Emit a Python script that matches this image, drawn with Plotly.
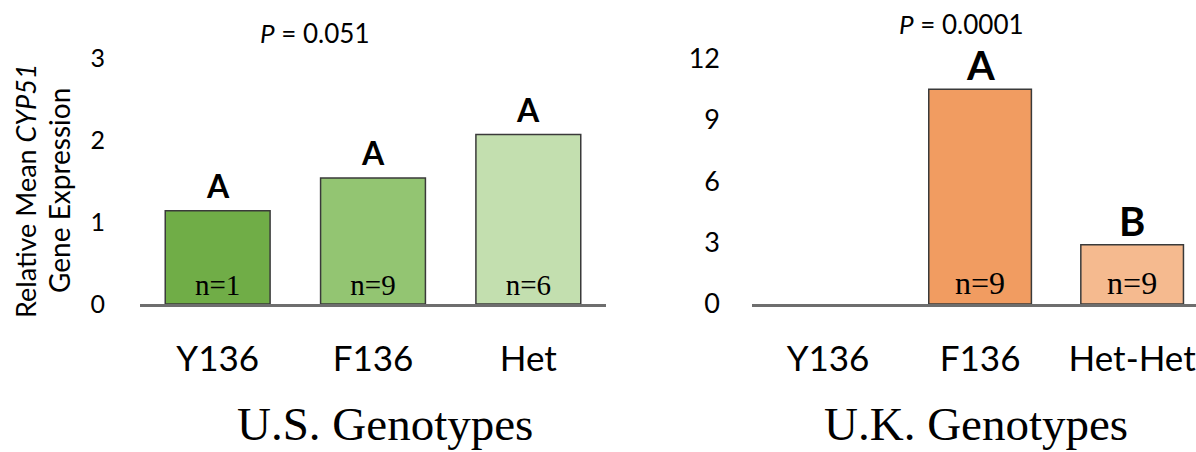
import plotly.graph_objects as go

# U.S. isolates
us_genotypes = ["Y136", "F136", "Het"]
us_expression = [1.14, 1.54, 2.07]
us_n = ["n=1", "n=9", "n=6"]
us_letters = ["A", "A", "A"]
us_colors = ["#70AD47", "#93C572", "#C3DFAF"]
us_ticks = [0, 1, 2, 3]

# U.K. isolates
uk_genotypes = ["Y136", "F136", "Het-Het"]
uk_expression = [None, 10.5, 2.9]
uk_n = ["", "n=9", "n=9"]
uk_letters = ["", "A", "B"]
uk_colors = ["#F19C61", "#F19C61", "#F5BA8F"]
uk_ticks = [0, 3, 6, 9, 12]

sans = "Lato, 'Open Sans', sans-serif"
serif = "'Liberation Serif', 'DejaVu Serif', serif"
W, H = 1196, 452

fig = go.Figure()

fig.add_trace(go.Bar(
    x=us_genotypes, y=us_expression, xaxis="x", yaxis="y",
    marker=dict(color=us_colors, line=dict(color="#3a3a3a", width=1.5)),
    text=us_n, textposition="inside", insidetextanchor="start",
    textangle=0, constraintext="none",
    insidetextfont=dict(family=serif, size=29, color="black"),
    showlegend=False, hoverinfo="x+y",
))
fig.add_trace(go.Bar(
    x=uk_genotypes, y=uk_expression, xaxis="x2", yaxis="y2",
    marker=dict(color=uk_colors, line=dict(color="#3a3a3a", width=1.5)),
    text=uk_n, textposition="inside", insidetextanchor="start",
    textangle=0, constraintext="none",
    insidetextfont=dict(family=serif, size=32, color="black"),
    showlegend=False, hoverinfo="x+y",
))

ydom = [1 - 304 / H, 1 - 58.5 / H]
axis_common = dict(showgrid=False, zeroline=False, automargin=False, ticks="")

fig.update_layout(
    width=W, height=H, template="none",
    margin=dict(l=0, r=0, t=0, b=0),
    paper_bgcolor="white", plot_bgcolor="rgba(0,0,0,0)",
    bargap=0.325,
    xaxis=dict(domain=[140 / W, 606 / W], range=[-0.5, 2.5], type="category",
               showline=True, linecolor="#6e6e6e", linewidth=2.5,
               tickfont=dict(family=sans, size=35, color="black"),
               ticklabelstandoff=22, **axis_common),
    yaxis=dict(domain=ydom, range=[0, 3], tickvals=us_ticks, showline=False,
               tickfont=dict(family=sans, size=25, color="black"),
               ticklabelstandoff=34, **axis_common),
    xaxis2=dict(domain=[752 / W, 1.0], range=[-0.5, 2.42], type="category",
                anchor="y2",
                showline=True, linecolor="#6e6e6e", linewidth=2.5,
                tickfont=dict(family=sans, size=35, color="black"),
                ticklabelstandoff=22, **axis_common),
    yaxis2=dict(domain=ydom, range=[0, 12], tickvals=uk_ticks, anchor="x2",
                showline=False,
                tickfont=dict(family=sans, size=27, color="black"),
                ticklabelstandoff=31, **axis_common),
)

annotations = []

# significance letters above each bar
for g, v, lab in zip(us_genotypes, us_expression, us_letters):
    annotations.append(dict(x=g, y=v, xref="x", yref="y", text=f"<b>{lab}</b>",
                            showarrow=False, yanchor="bottom", yshift=4,
                            font=dict(family=sans, size=32, color="black")))
for g, v, lab in zip(uk_genotypes, uk_expression, uk_letters):
    if v is None or not lab:
        continue
    annotations.append(dict(x=g, y=v, xref="x2", yref="y2", text=f"<b>{lab}</b>",
                            showarrow=False, yanchor="bottom", yshift=-2,
                            font=dict(family=sans, size=40, color="black")))

# P values
annotations.append(dict(x=314 / W, y=1 - 33.5 / H, xref="paper", yref="paper",
                        text="<i>P</i> = 0.051", showarrow=False,
                        xanchor="center", yanchor="middle",
                        font=dict(family=sans, size=26, color="black")))
annotations.append(dict(x=961 / W, y=1 - 24 / H, xref="paper", yref="paper",
                        text="<i>P</i> = 0.0001", showarrow=False,
                        xanchor="center", yanchor="middle",
                        font=dict(family=sans, size=26, color="black")))

# y-axis title (two rotated lines)
annotations.append(dict(x=26 / W, y=1 - 191 / H, xref="paper", yref="paper",
                        text="Relative Mean <i>CYP51</i>", textangle=-90,
                        showarrow=False, xanchor="center", yanchor="middle",
                        font=dict(family=sans, size=27, color="black")))
annotations.append(dict(x=59 / W, y=1 - 191 / H, xref="paper", yref="paper",
                        text="Gene Expression", textangle=-90,
                        showarrow=False, xanchor="center", yanchor="middle",
                        font=dict(family=sans, size=28, color="black")))

# panel titles
annotations.append(dict(x=385 / W, y=1 - 424 / H, xref="paper", yref="paper",
                        text="U.S. Genotypes", showarrow=False,
                        xanchor="center", yanchor="middle",
                        font=dict(family=serif, size=47, color="black")))
annotations.append(dict(x=976 / W, y=1 - 424 / H, xref="paper", yref="paper",
                        text="U.K. Genotypes", showarrow=False,
                        xanchor="center", yanchor="middle",
                        font=dict(family=serif, size=47, color="black")))

fig.update_layout(annotations=annotations)

fig.write_html("out.html")
